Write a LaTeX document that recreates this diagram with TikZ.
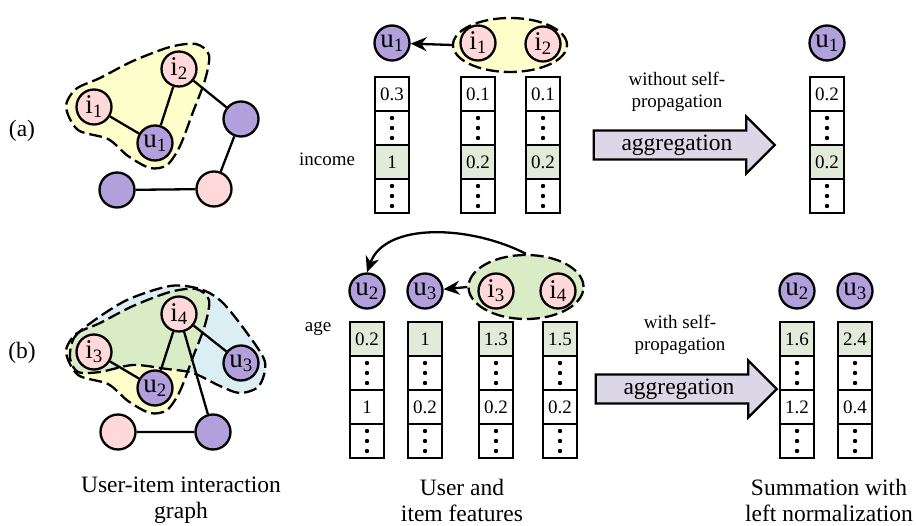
\documentclass[tikz,border=0pt]{standalone}
\usepackage{fontspec}
\setmainfont{Liberation Serif}
\usetikzlibrary{positioning,shapes.geometric,shapes.arrows,arrows.meta}

\definecolor{upurple}{RGB}{178,160,220}
\definecolor{ipink}{RGB}{255,217,217}
\definecolor{blobyellow}{RGB}{255,255,204}
\definecolor{blobblue}{RGB}{218,238,243}
\definecolor{blobgreen}{RGB}{218,236,198}
\definecolor{cellgreen}{RGB}{226,234,218}
\definecolor{arrowfill}{RGB}{220,215,230}

% one feature vector: name, centre of top cell, style/text of row 1, style/text of row 3
\newcommand{\featcol}[6]{%
  \node[cell,#3] (#1a) at (#2) {#4};
  \node[dotcell, below=0pt of #1a] (#1b) {};
  \node[cell,#5, below=0pt of #1b] (#1c) {#6};
  \node[dotcell, below=0pt of #1c] (#1d) {};
}

\begin{document}
\begin{tikzpicture}[x=1pt, y=-1pt,
        user/.style={circle, draw, line width=2.3pt, fill=upurple, minimum size=35, inner sep=0, font=\fontsize{27}{27}\selectfont},
        item/.style={user, fill=ipink},
        link/.style={line width=2.3pt},
        cell/.style={draw, line width=2.6pt, minimum width=34, minimum height=34, inner sep=0, outer sep=0, font=\fontsize{19}{19}\selectfont},
        hl/.style={fill=cellgreen},
        dotcell/.style={cell, path picture={\foreach \d in {-10,0,10} \fill ([yshift=\d pt]path picture bounding box.center) circle (2.2pt);}},
        group/.style={line width=2.3pt, dash pattern=on 13pt off 5pt},
        tip/.style={-{Stealth[length=16pt, width=14pt]}},
        agg/.style={single arrow, draw, line width=2.3pt, fill=arrowfill, minimum height=181, inner ysep=3pt, single arrow head extend=14pt, font=\fontsize{23.5}{23.5}\selectfont},
        note/.style={align=center, font=\fontsize{19}{22}\selectfont},
        caption/.style={align=center, font=\fontsize{23.5}{26}\selectfont}]
    \useasboundingbox (0,0) rectangle (916,526);

    % (a) interaction graph
    \filldraw[group, fill=blobyellow] plot[smooth cycle] coordinates {(66,107) (76,89) (100,78) (133,61) (170,47) (196,44) (209,55) (205,80) (193,112) (180,146) (167,165) (150,168) (128,156) (108,139) (78,130)};
    \node[item] (i1g) at (94,107) {i\textsubscript{1}};
    \node[item] (i2g) at (179,69) {i\textsubscript{2}};
    \node[user] (u1g) at (155,143) {u\textsubscript{1}};
    \node[user] (uag) at (241,119) {};
    \node[item] (iag) at (214,189) {};
    \node[user] (ubg) at (117,190) {};
    \draw[link] (i1g) -- (u1g) (i2g) -- (u1g) (i2g) -- (uag) (uag) -- (iag) (iag) -- (ubg);

    % (b) interaction graph
    \fill[blobyellow] plot[smooth cycle] coordinates {(66,352) (76,334) (100,323) (133,306) (170,292) (196,289) (209,300) (205,325) (193,357) (180,391) (167,410) (150,413) (128,401) (108,384) (78,375)};
    \fill[blobblue] plot[smooth cycle] coordinates {(70,358) (74,338) (92,322) (127,300) (170,286) (200,289) (222,302) (247,333) (265,362) (259,386) (240,393) (220,386) (193,373) (167,369) (133,365) (100,372) (78,372)};
    \begin{scope}
        \clip plot[smooth cycle] coordinates {(66,352) (76,334) (100,323) (133,306) (170,292) (196,289) (209,300) (205,325) (193,357) (180,391) (167,410) (150,413) (128,401) (108,384) (78,375)};
        \fill[blobgreen] plot[smooth cycle] coordinates {(70,358) (74,338) (92,322) (127,300) (170,286) (200,289) (222,302) (247,333) (265,362) (259,386) (240,393) (220,386) (193,373) (167,369) (133,365) (100,372) (78,372)};
    \end{scope}
    \draw[group] plot[smooth cycle] coordinates {(66,352) (76,334) (100,323) (133,306) (170,292) (196,289) (209,300) (205,325) (193,357) (180,391) (167,410) (150,413) (128,401) (108,384) (78,375)};
    \draw[group] plot[smooth cycle] coordinates {(70,358) (74,338) (92,322) (127,300) (170,286) (200,289) (222,302) (247,333) (265,362) (259,386) (240,393) (220,386) (193,373) (167,369) (133,365) (100,372) (78,372)};
    \node[item] (i3g) at (94,352) {i\textsubscript{3}};
    \node[item] (i4g) at (179,314) {i\textsubscript{4}};
    \node[user] (u2g) at (155,388) {u\textsubscript{2}};
    \node[user] (u3g) at (241,363) {u\textsubscript{3}};
    \node[item] (icg) at (118,432) {};
    \node[user] (ucg) at (213,432) {};
    \draw[link] (i3g) -- (u2g) (i4g) -- (u2g) (i4g) -- (u3g) (i4g) -- (ucg) (icg) -- (ucg);

    \node[caption] (a) at (22,131) {(a)};
    \node[caption] (b) at (22,353) {(b)};

    % (a) features
    \node[user] (u1a) at (392,43) {u\textsubscript{1}};
    \node[group, draw, ellipse, fill=blobyellow, minimum width=114, minimum height=54] (pairA) at (510,45) {};
    \node[item] (i1a) at (478,43) {i\textsubscript{1}};
    \node[item] (i2a) at (543,44) {i\textsubscript{2}};
    \draw[link, tip] (pairA.west) -- (u1a);
    \featcol{fa}{392,94}{}{0.3}{hl}{1}
    \featcol{fb}{478,94}{}{0.1}{hl}{0.2}
    \featcol{fc}{543,94}{}{0.1}{hl}{0.2}
    \node[font=\fontsize{19}{19}\selectfont] (income) at (327,159) {income};

    \node[note] (noself) at (677,92) {without self-\\propagation};
    \node[agg] (aggA) at (677,145) {aggregation};
    \node[user] (u1r) at (827,43) {u\textsubscript{1}};
    \featcol{fr}{827,94}{}{0.2}{hl}{0.2}

    % (b) features
    \node[user] (u2b) at (367,291) {u\textsubscript{2}};
    \node[user] (u3b) at (425,291) {u\textsubscript{3}};
    \node[group, draw, ellipse, fill=blobgreen, minimum width=115, minimum height=64] (pairB) at (526,287) {};
    \node[item] (i3b) at (496,291) {i\textsubscript{3}};
    \node[item] (i4b) at (558,291) {i\textsubscript{4}};
    \draw[link, tip] (pairB.west) -- (u3b);
    \draw[link, tip] (pairB.north) .. controls (470,225) and (385,222) .. (u2b.north);
    \featcol{fd}{367,339}{hl}{0.2}{}{1}
    \featcol{fe}{425,339}{hl}{1}{}{0.2}
    \featcol{ff}{496,339}{hl}{1.3}{}{0.2}
    \featcol{fg}{560,339}{hl}{1.5}{}{0.2}
    \node[font=\fontsize{19}{19}\selectfont] (age) at (318,329) {age};

    \node[note] (self) at (680,335) {with self-\\propagation};
    \node[agg] (aggB) at (679,389) {aggregation};
    \node[user] (u2r) at (797,291) {u\textsubscript{2}};
    \node[user] (u3r) at (855,291) {u\textsubscript{3}};
    \featcol{fh}{797,339}{hl}{1.6}{}{1.2}
    \featcol{fi}{855,339}{hl}{2.4}{}{0.4}

    % captions
    \node[caption] (capgraph) at (181,500) {User-item interaction\\graph};
    \node[caption] (capfeat) at (462,500) {User and\\item features};
    \node[caption] (capsum) at (829,500) {Summation with\\left normalization};
\end{tikzpicture}
\end{document}
